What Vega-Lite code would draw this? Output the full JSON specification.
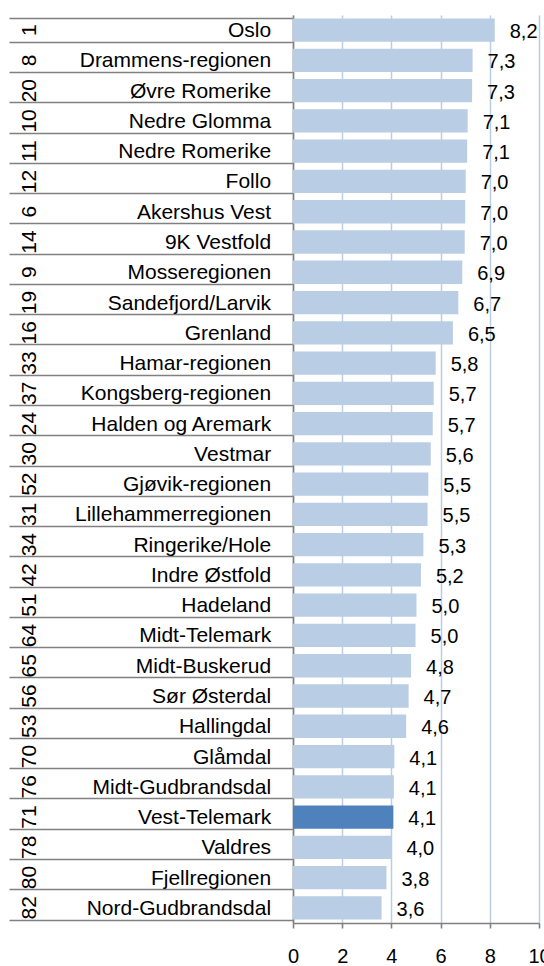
{
  "$schema": "https://vega.github.io/schema/vega-lite/v6.json",
  "padding": {"left": 9, "top": 15, "right": 0, "bottom": 0},
  "autosize": {"type": "pad"},
  "config": {"font": "Liberation Sans", "view": {"stroke": null}, "concat": {"spacing": 0}},
  "spacing": 0,
  "bounds": "flush",
  "data": {"values": [
    {"rank": "1", "name": "Oslo", "value": 8.2, "label": "8,2"},
    {"rank": "8", "name": "Drammens-regionen", "value": 7.3, "label": "7,3"},
    {"rank": "20", "name": "Øvre Romerike", "value": 7.28, "label": "7,3"},
    {"rank": "10", "name": "Nedre Glomma", "value": 7.1, "label": "7,1"},
    {"rank": "11", "name": "Nedre Romerike", "value": 7.08, "label": "7,1"},
    {"rank": "12", "name": "Follo", "value": 7.02, "label": "7,0"},
    {"rank": "6", "name": "Akershus Vest", "value": 7.0, "label": "7,0"},
    {"rank": "14", "name": "9K Vestfold", "value": 6.98, "label": "7,0"},
    {"rank": "9", "name": "Mosseregionen", "value": 6.88, "label": "6,9"},
    {"rank": "19", "name": "Sandefjord/Larvik", "value": 6.72, "label": "6,7"},
    {"rank": "16", "name": "Grenland", "value": 6.5, "label": "6,5"},
    {"rank": "33", "name": "Hamar-regionen", "value": 5.8, "label": "5,8"},
    {"rank": "37", "name": "Kongsberg-regionen", "value": 5.72, "label": "5,7"},
    {"rank": "24", "name": "Halden og Aremark", "value": 5.68, "label": "5,7"},
    {"rank": "30", "name": "Vestmar", "value": 5.6, "label": "5,6"},
    {"rank": "52", "name": "Gjøvik-regionen", "value": 5.5, "label": "5,5"},
    {"rank": "31", "name": "Lillehammerregionen", "value": 5.47, "label": "5,5"},
    {"rank": "34", "name": "Ringerike/Hole", "value": 5.3, "label": "5,3"},
    {"rank": "42", "name": "Indre Østfold", "value": 5.2, "label": "5,2"},
    {"rank": "51", "name": "Hadeland", "value": 5.02, "label": "5,0"},
    {"rank": "64", "name": "Midt-Telemark", "value": 4.98, "label": "5,0"},
    {"rank": "65", "name": "Midt-Buskerud", "value": 4.8, "label": "4,8"},
    {"rank": "56", "name": "Sør Østerdal", "value": 4.7, "label": "4,7"},
    {"rank": "53", "name": "Hallingdal", "value": 4.6, "label": "4,6"},
    {"rank": "70", "name": "Glåmdal", "value": 4.12, "label": "4,1"},
    {"rank": "76", "name": "Midt-Gudbrandsdal", "value": 4.1, "label": "4,1"},
    {"rank": "71", "name": "Vest-Telemark", "value": 4.08, "label": "4,1"},
    {"rank": "78", "name": "Valdres", "value": 4.0, "label": "4,0"},
    {"rank": "80", "name": "Fjellregionen", "value": 3.8, "label": "3,8"},
    {"rank": "82", "name": "Nord-Gudbrandsdal", "value": 3.6, "label": "3,6"}
  ]},
  "hconcat": [
    {
      "width": 284,
      "height": 908,
      "encoding": {
        "y": {
          "field": "name", "type": "nominal", "sort": null,
          "scale": {"paddingInner": 0.23, "paddingOuter": 0.115},
          "axis": {"grid": true, "tickBand": "extent", "labels": false, "ticks": false, "domain": false, "title": null, "gridColor": "#808080", "gridWidth": 1.6}
        }
      },
      "layer": [
        {
          "mark": {"type": "text", "angle": 270, "fontSize": 21, "align": "center", "baseline": "middle", "color": "black"},
          "encoding": {
            "x": {"datum": 0.075, "type": "quantitative", "scale": {"domain": [0, 1]}, "axis": null},
            "text": {"field": "rank"}
          }
        },
        {
          "mark": {"type": "text", "align": "right", "baseline": "middle", "fontSize": 21, "dy": 1, "color": "black"},
          "encoding": {
            "x": {"datum": 0.923, "type": "quantitative"},
            "text": {"field": "name"}
          }
        }
      ]
    },
    {
      "width": 246,
      "height": 908,
      "encoding": {
        "y": {
          "field": "name", "type": "nominal", "sort": null,
          "scale": {"paddingInner": 0.23, "paddingOuter": 0.115},
          "axis": {"labels": false, "ticks": false, "title": null, "grid": false, "domainColor": "#808080", "domainWidth": 1.6}
        },
        "x": {
          "field": "value", "type": "quantitative",
          "scale": {"domain": [0, 10]},
          "axis": {"values": [0, 2, 4, 6, 8, 10], "grid": true, "gridColor": "#b9cde5", "gridWidth": 1.5, "tickColor": "#808080", "tickSize": 5, "tickWidth": 1.6, "domainColor": "#808080", "domainWidth": 1.6, "labelFontSize": 20, "labelPadding": 18, "labelFlush": false, "labelOverlap": false, "labelColor": "black", "title": null}
        }
      },
      "layer": [
        {
          "mark": {"type": "bar"},
          "encoding": {
            "color": {"condition": {"test": "datum.name === 'Vest-Telemark'", "value": "#4f81bd"}, "value": "#b9cde5"}
          }
        },
        {
          "mark": {"type": "text", "align": "left", "baseline": "middle", "dx": 15, "dy": 2, "fontSize": 20, "color": "black"},
          "encoding": {"text": {"field": "label"}}
        }
      ]
    }
  ]
}
